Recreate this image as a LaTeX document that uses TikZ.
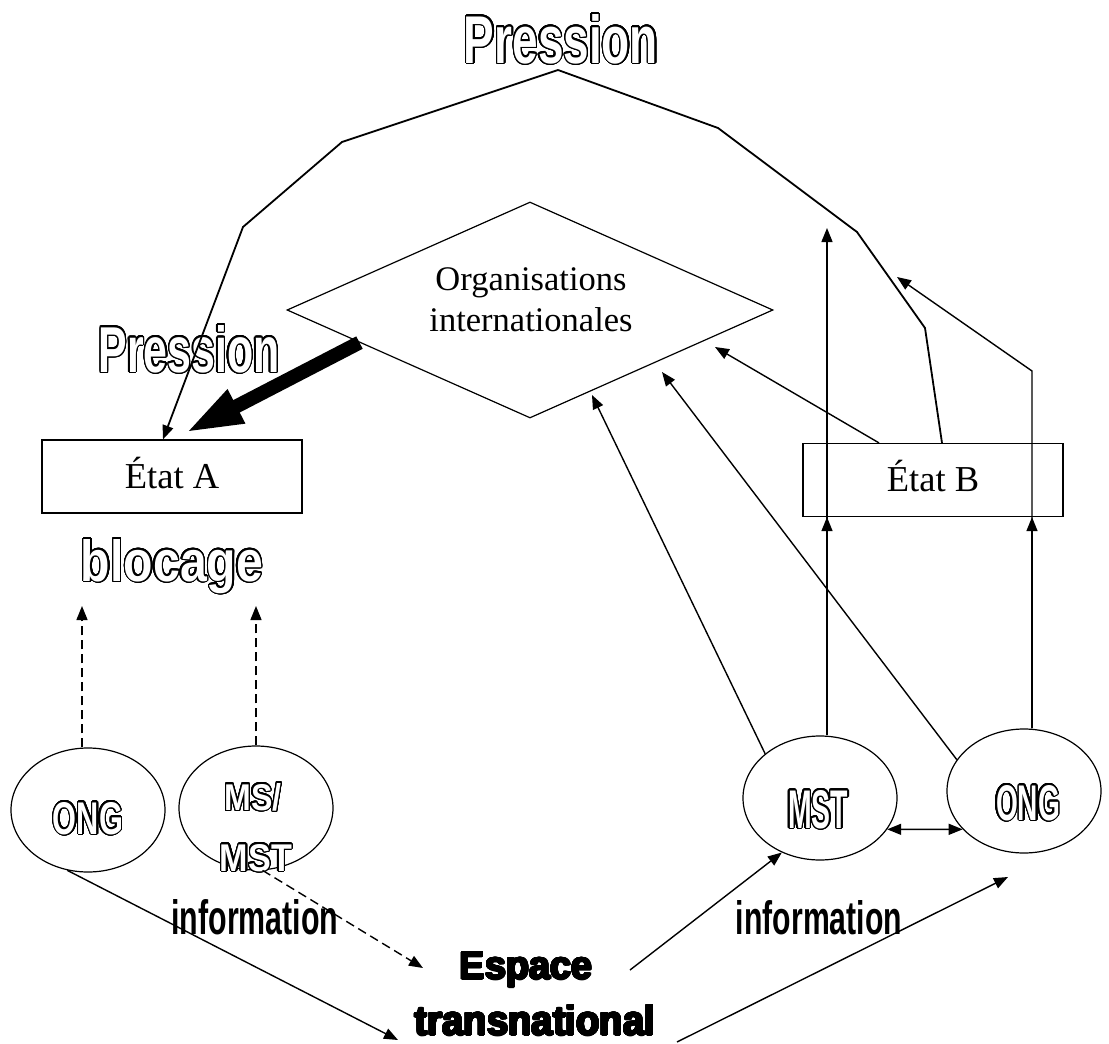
\documentclass[tikz,border=0pt]{standalone}
\usepackage{fontspec}
\setmainfont{Liberation Serif}
\newfontfamily\boldsans{Liberation Sans}
\usepackage{graphicx}
\usepackage{contour}
\contourlength{1.4pt}
\contournumber{32}
\usetikzlibrary{arrows.meta,shapes.geometric,calc}

% hollow, heavy and narrow sans lettering
\newcommand{\hollow}[3]{{\color{white}\contour{black}{\resizebox{#1}{#2}{\boldsans\bfseries #3}}}}
\newcommand{\heavy}[3]{{\contourlength{1pt}\contour{black}{\resizebox{#1}{#2}{\boldsans\bfseries #3}}}}
\newcommand{\narrow}[3]{\resizebox{#1}{#2}{\boldsans\bfseries #3}}

\begin{document}
\begin{tikzpicture}
        [x=1pt, y=-1pt,
        >={Triangle[length=14pt,width=11pt]},
        txt/.style={inner sep=0pt, anchor=base},
        etat/.style={draw, line width=1.2pt, minimum width=260pt, minimum height=73pt, text depth=8pt, font=\fontsize{36.5}{42}\selectfont},
        bulle/.style={ellipse, draw, line width=1.2pt, minimum width=154pt, minimum height=124pt, inner sep=0pt},
        arr/.style={line width=1.4pt, ->},
        dasharr/.style={arr, dash pattern=on 9pt off 5pt},
        dblarr/.style={line width=1.4pt, <->},
        press/.style={line width=1.8pt},
        big/.style={line width=14pt, -{Triangle[length=58pt,width=34pt]}}]

        \useasboundingbox (0,0) rectangle (1109,1044);

        % States, organisations and actors
        \node[etat] (etatA) at (172,476.5) {État A};
        \node[etat] (etatB) at (933,480) {État B};
        \node[diamond, draw, line width=1.2pt, minimum width=486pt, minimum height=216pt, inner sep=0pt] (org) at (530,310) {};
        \node[inner sep=0pt, align=center, font=\fontsize{34.5}{41}\selectfont] (orgText) at (531,300) {Organisations\\internationales};
        \node[bulle] (ongA) at (88,810) {};
        \node[bulle] (msA) at (256,808) {};
        \node[bulle] (mstB) at (820,798) {};
        \node[bulle] (ongB) at (1024,791) {};

        % Lettering
        \node[txt] (presTop) at (561,63) {\hollow{194pt}{49pt}{Pression}};
        \node[txt] (presLeft) at (189,372) {\hollow{181pt}{47pt}{Pression}};
        \node[txt] (blocage) at (172,581) {\hollow{182pt}{42pt}{blocage}};
        \node[txt] (ongAtxt) at (88,834) {\hollow{70pt}{32pt}{ONG}};
        \node[txt] (msAtxt) at (253,810) {\hollow{57pt}{27pt}{MS/}};
        \node[txt] (mstAtxt) at (256,871) {\hollow{72pt}{27pt}{MST}};
        \node[txt] (mstBtxt) at (818,828) {\hollow{60pt}{38pt}{MST}};
        \node[txt] (ongBtxt) at (1028,820) {\hollow{64pt}{35pt}{ONG}};
        \node[txt] (infoL) at (255,934) {\narrow{167pt}{35pt}{information}};
        \node[txt] (infoR) at (819,934) {\narrow{166pt}{34pt}{information}};
        \node[txt] (espace) at (526,979) {\heavy{132pt}{27pt}{Espace}};
        \node[txt] (trans) at (535,1035) {\heavy{240pt}{30pt}{transnational}};

        % Free ends
        \coordinate (apex) at (558,70);
        \coordinate (blocL) at (82,606);
        \coordinate (blocR) at (256,606);
        \coordinate (upTip) at (827,228);
        \coordinate (bendB) at (1032,371);
        \coordinate (ongTip) at (897,277);
        \coordinate (orgTip1) at (592,395);
        \coordinate (orgTip2) at (662,372);
        \coordinate (orgTip3) at (715,347);
        \coordinate (bigStart) at ($(org.west)!0.3!(org.south)$);
        \coordinate (bigTip) at (185,433);
        \coordinate (espIn) at (423,968);
        \coordinate (transIn) at (398,1040);
        \coordinate (espOut) at (630,970);
        \coordinate (transOut) at (677,1042);
        \coordinate (ongIn) at (1008,877);

        % Pressure
        \draw[press, ->] (apex) -- (342,142) -- (243,227) -- ([xshift=-9pt]etatA.north);
        \draw[press] (apex) -- (718,128) -- (857,232) -- (925,328) -- ([xshift=9pt]etatB.north);
        \draw[big] (bigStart) -- (bigTip);

        % Blocage
        \draw[dasharr] (ongA.north -| blocL) -- (blocL);
        \draw[dasharr] (msA.north -| blocR) -- (blocR);

        % State B side
        \draw[arr] (mstB.north -| upTip) -- (etatB.south -| upTip);
        \draw[arr] (mstB.north -| upTip) -- (upTip);
        \draw[arr] (ongB.north -| bendB) -- (etatB.south -| bendB);
        \draw[arr] (ongB.north -| bendB) -- (bendB) -- (ongTip);
        \draw[arr] (mstB.north west) -- (orgTip1);
        \draw[arr] (ongB.155) -- (orgTip2);
        \draw[arr] ([xshift=-54pt]etatB.north) -- (orgTip3);
        \draw[dblarr] (mstB.-25) -- (ongB.212);

        % Information through the transnational space
        \draw[arr] (ongA.251) -- (transIn);
        \draw[dasharr] (msA.-84) -- (espIn);
        \draw[arr] (espOut) -- (mstB.235);
        \draw[arr] (transOut) -- (ongIn);

\end{tikzpicture}
\end{document}
